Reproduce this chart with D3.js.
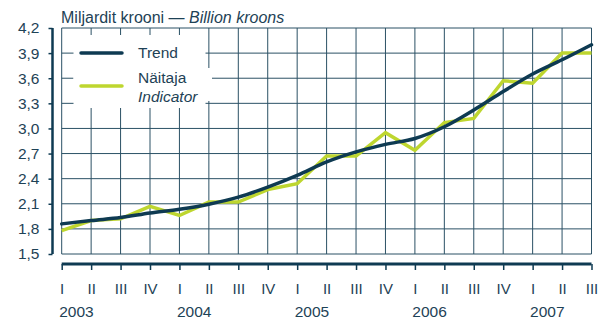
<!DOCTYPE html>
<html>
<head>
<meta charset="utf-8">
<script src="https://cdn.jsdelivr.net/npm/d3@7"></script>
<style>
  html, body { margin: 0; padding: 0; background: #ffffff; }
  svg { display: block; }
  text { font-family: "Liberation Sans", Arial, Helvetica, sans-serif; fill: #1e4256; }
</style>
</head>
<body>
<svg id="chart" width="604" height="322"></svg>
<script>
// Quarterly series, 2003 Q1 – 2007 Q3 (billion kroons)
const quarters = ["I","II","III","IV","I","II","III","IV","I","II","III","IV","I","II","III","IV","I","II","III"];
const years = ["2003","2004","2005","2006","2007"];
const trend = [1.86,1.90,1.935,1.99,2.035,2.095,2.18,2.30,2.44,2.60,2.72,2.81,2.88,3.02,3.22,3.44,3.65,3.82,4.00];
const indicator = [1.78,1.90,1.92,2.07,1.96,2.12,2.12,2.27,2.34,2.67,2.67,2.95,2.74,3.07,3.12,3.57,3.54,3.90,3.90];
const yTicks = [1.5,1.8,2.1,2.4,2.7,3.0,3.3,3.6,3.9,4.2];

const navy = "#0e3a52";
const lime = "#bed62f";
const grid = "#2b5165";

const svg = d3.select("#chart");
const idx = d3.range(quarters.length);

const x = d3.scalePoint().domain(idx).range([61.7, 591.5]);
const y = d3.scaleLinear().domain([1.5, 4.2]).range([254, 28]);
const fmt = v => d3.format(".1f")(v).replace(".", ",");

// Title
const title = svg.append("text").attr("x", 61).attr("y", 23).style("font-size", "16px");
title.append("tspan").text("Miljardit krooni — ");
title.append("tspan").style("font-style", "italic").text("Billion kroons");

// Grid
const g = svg.append("g");
g.selectAll(".vg").data(idx).join("line")
  .attr("x1", d => x(d)).attr("x2", d => x(d))
  .attr("y1", y(4.2)).attr("y2", y(1.5))
  .attr("stroke", grid).attr("stroke-width", 1);
g.selectAll(".hg").data(yTicks).join("line")
  .attr("x1", x(0)).attr("x2", x(idx.length - 1))
  .attr("y1", d => y(d)).attr("y2", d => y(d))
  .attr("stroke", grid).attr("stroke-width", 1);

// Y axis
const yAxis = d3.axisLeft(y).tickValues(yTicks).tickFormat(fmt).tickSize(4).tickPadding(9);
const ya = svg.append("g").attr("transform", "translate(52.5,0)").call(yAxis);
ya.select(".domain").attr("stroke", navy).attr("stroke-width", 2.5).attr("d", `M0,${y(4.2)}V${y(1.5)}`);
ya.selectAll(".tick line").attr("stroke", navy).attr("stroke-width", 1.5);
ya.selectAll(".tick text").style("font-size", "15.5px").attr("fill", "#1e4256");

// X axis
const xAxis = d3.axisBottom(x).tickFormat(i => quarters[i]).tickSize(6).tickPadding(13);
const xa = svg.append("g").attr("transform", "translate(0,264)").call(xAxis);
xa.select(".domain").attr("stroke", navy).attr("stroke-width", 3).attr("d", `M${x(0)},0H${x(idx.length - 1)}`);
xa.selectAll(".tick line").attr("stroke", navy).attr("stroke-width", 1.5);
xa.selectAll(".tick text").style("font-size", "15px").attr("fill", "#1e4256");

// Year labels, centred between quarters I and II
svg.selectAll(".year").data(years).join("text")
  .attr("x", (d, i) => (x(i * 4) + x(i * 4 + 1)) / 2)
  .attr("y", 317)
  .attr("text-anchor", "middle")
  .style("font-size", "15.5px")
  .text(d => d);

// Legend
const lg = svg.append("g");
lg.append("rect").attr("x", 73.5).attr("y", 35).attr("width", 132).attr("height", 73).attr("fill", "#fff");
lg.append("rect").attr("x", 73.5).attr("y", 68).attr("width", 138.5).attr("height", 33).attr("fill", "#fff");
lg.append("line").attr("x1", 81).attr("x2", 122).attr("y1", 53).attr("y2", 53)
  .attr("stroke", navy).attr("stroke-width", 3.5).attr("stroke-linecap", "round");
lg.append("line").attr("x1", 81).attr("x2", 122).attr("y1", 86).attr("y2", 86)
  .attr("stroke", lime).attr("stroke-width", 3.5).attr("stroke-linecap", "round");
lg.append("text").attr("x", 138).attr("y", 58).style("font-size", "15.5px").text("Trend");
lg.append("text").attr("x", 138).attr("y", 83).style("font-size", "15.5px").text("Näitaja");
lg.append("text").attr("x", 138).attr("y", 102).style("font-size", "15.5px").style("font-style", "italic").text("Indicator");

// Series lines
const line = d3.line().x((d, i) => x(i)).y(d => y(d));
svg.append("path").datum(indicator).attr("d", line)
  .attr("fill", "none").attr("stroke", lime).attr("stroke-width", 3.5).attr("stroke-linejoin", "miter");
svg.append("path").datum(trend).attr("d", d3.line().x((d, i) => x(i)).y(d => y(d)).curve(d3.curveMonotoneX))
  .attr("fill", "none").attr("stroke", navy).attr("stroke-width", 3.5).attr("stroke-linecap", "round");
</script>
</body>
</html>
